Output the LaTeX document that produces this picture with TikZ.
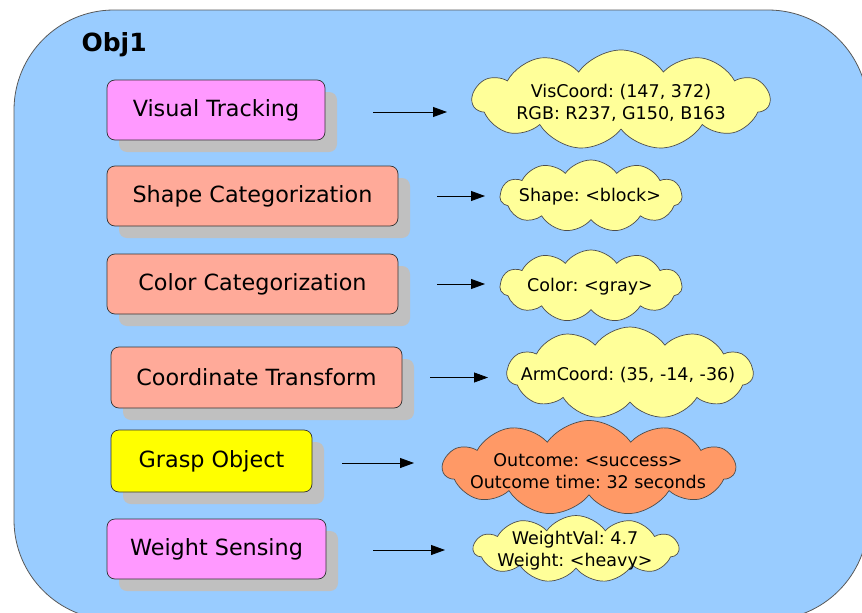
\documentclass[tikz,border=0pt]{standalone}
\usepackage{fontspec}
\setmainfont{DejaVu Sans}
\frenchspacing
\usetikzlibrary{shapes.symbols,arrows.meta,shadows,calc}
\definecolor{bgblue}{HTML}{99CCFF}
\definecolor{pinkbox}{HTML}{FF99FF}
\definecolor{salmonbox}{HTML}{FFAA99}
\definecolor{yellowbox}{HTML}{FFFF00}
\definecolor{cloudyellow}{HTML}{FFFF99}
\definecolor{cloudorange}{HTML}{FF9966}
\definecolor{shadowgray}{HTML}{C0C0C0}
\tikzset{
  procbox/.style={draw=black!80, line width=0.7pt, rounded corners=8pt, inner sep=0pt,
    font=\fontsize{22.3}{26}\selectfont,
    drop shadow={shadow xshift=12pt, shadow yshift=-12pt, fill=shadowgray, opacity=1}},
  infocloud/.style={cloud, cloud puffs=11, cloud puff arc=110, cloud ignores aspect,
    draw=black!70, line width=0.7pt, inner sep=0pt},
  cloudtext/.style={align=center, inner sep=0pt, font=\fontsize{17.5}{22}\selectfont},
  arr/.style={-{Triangle[length=14pt,width=10pt]}, line width=0.8pt, black}
}
\begin{document}
\begin{tikzpicture}[x=1pt,y=-1pt]
\useasboundingbox (0,0) rectangle (862,613);
\begin{scope}
\clip (0,0) rectangle (862,613);
\draw[fill=bgblue, draw=black!65, line width=0.8pt, rounded corners=100pt] (14,10) rectangle (868,620);
\end{scope}
\node[font=\bfseries\fontsize{25}{30}\selectfont, anchor=west] (title) at (78,45) {Obj1};

\node[procbox, fill=pinkbox, minimum width=218pt, minimum height=60pt] (vt) at (216,110) {Visual Tracking};
\node[procbox, fill=salmonbox, minimum width=291pt, minimum height=60pt] (sc) at (252.5,196) {Shape Categorization};
\node[procbox, fill=salmonbox, minimum width=291pt, minimum height=60pt] (cc) at (252.5,284) {Color Categorization};
\node[procbox, fill=salmonbox, minimum width=291pt, minimum height=61pt] (ct) at (256.5,377.5) {Coordinate Transform};
\node[procbox, fill=yellowbox, minimum width=201pt, minimum height=62pt] (go) at (211.5,461) {Grasp Object};
\node[procbox, fill=pinkbox, minimum width=219pt, minimum height=60pt] (ws) at (216.5,549) {Weight Sensing};

\node[infocloud, fill=cloudyellow, minimum width=297pt, minimum height=100pt] (c1) at (621,100) {};
\node[infocloud, fill=cloudyellow, minimum width=182pt, minimum height=72pt] (c2) at (591,196) {};
\node[infocloud, fill=cloudyellow, minimum width=182pt, minimum height=72pt] (c3) at (591,286) {};
\node[infocloud, fill=cloudyellow, minimum width=246pt, minimum height=92pt] (c4) at (630,373) {};
\node[infocloud, fill=cloudorange, minimum width=292pt, minimum height=95pt] (c5) at (589,468) {};
\node[infocloud, fill=cloudyellow, minimum width=205pt, minimum height=67pt] (c6) at (576,549) {};

\node[cloudtext] (t1) at (621,103) {VisCoord: (147, 372)\\RGB: R237, G150, B163};
\node[cloudtext] (t2) at (590,197) {Shape: <block>};
\node[cloudtext] (t3) at (590,287) {Color: <gray>};
\node[cloudtext] (t4) at (628,375) {ArmCoord: (35, -14, -36)};
\node[cloudtext] (t5) at (588,471) {Outcome: <success>\\Outcome time: 32 seconds};
\node[cloudtext] (t6) at (575,550.5) {WeightVal: 4.7\\Weight: <heavy>};

\draw[arr] ($(vt.east)+(48,2)$) -- ($(c1.center |- vt.east)+(-174,2)$);
\draw[arr] ($(sc.east)+(39,0)$) -- ($(c2.center |- sc.east)+(-106,0)$);
\draw[arr] ($(cc.east)+(39,0)$) -- ($(c3.center |- cc.east)+(-106,0)$);
\draw[arr] ($(ct.east)+(28,0)$) -- ($(c4.center |- ct.east)+(-142,0)$);
\draw[arr] ($(go.east)+(30,2)$) -- ($(c5.center |- go.east)+(-175,2)$);
\draw[arr] ($(ws.east)+(47,1)$) -- ($(c6.center |- ws.east)+(-131,1)$);
\end{tikzpicture}
\end{document}
